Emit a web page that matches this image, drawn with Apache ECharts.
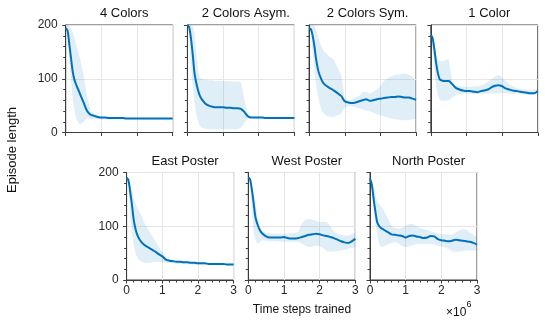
<!DOCTYPE html>
<html lang="en">
<head>
    <meta charset="UTF-8">
    <title>Episode length</title>
    <script src="https://cdn.jsdelivr.net/npm/echarts@6/dist/echarts.min.js"></script>
    <style>
        body { margin: 0; background: #fff; }
        #main { width: 545px; height: 333px; }
    </style>
</head>
<body>
<div id="main"></div>
<script type="text/javascript">
    // time steps trained, in millions
    var steps = [0, 0.05, 0.1, 0.15, 0.2, 0.25, 0.3, 0.35, 0.4, 0.5, 0.6, 0.7, 0.8, 0.9, 1.0, 1.1, 1.2, 1.3, 1.4, 1.5,
        1.6, 1.7, 1.8, 1.9, 2.0, 2.1, 2.2, 2.3, 2.4, 2.5, 2.6, 2.7, 2.8, 2.9, 3.0];

    var titles = ['4 Colors', '2 Colors Asym.', '2 Colors Sym.', '1 Color', 'East Poster', 'West Poster', 'North Poster'];
    var yTicks = [0, 100, 200];
    var xTicks = [0, 1, 2, 3];

    // 4 Colors
    var mean1 = [194, 190, 165, 138, 112, 97, 88, 80, 72, 56, 40, 33, 31, 29, 28, 28, 27, 27, 27, 27, 27, 26, 26, 26, 26, 26, 26, 26, 26, 26, 26, 26, 26, 26, 26];
    var upper1 = [200, 200, 198, 192, 186, 176, 163, 150, 138, 108, 68, 40, 35, 32, 30, 29, 29, 28, 28, 28, 28, 28, 28, 28, 27, 27, 27, 27, 27, 27, 27, 27, 27, 27, 27];
    var lower1 = [194, 185, 141, 98, 60, 38, 25, 19, 15, 19, 26, 25, 25, 25, 24, 24, 24, 24, 24, 24, 24, 24, 24, 24, 24, 24, 24, 24, 24, 24, 24, 24, 24, 24, 24];
    // 2 Colors Asym.
    var mean2 = [200, 196, 175, 145, 110, 92, 78, 68, 62, 54, 50, 48, 47, 47, 47, 46, 46, 45, 45, 44, 38, 30, 28, 28, 28, 28, 27, 27, 27, 27, 27, 27, 27, 27, 27];
    var upper2 = [200, 200, 200, 198, 185, 150, 118, 103, 100, 98, 97, 97, 96, 96, 96, 96, 95, 95, 95, 94, 60, 32, 29, 29, 29, 28, 28, 28, 28, 28, 28, 28, 28, 28, 28];
    var lower2 = [200, 185, 125, 85, 55, 32, 20, 12, 9, 7, 6, 6, 6, 6, 6, 6, 6, 6, 6, 9, 18, 26, 26, 26, 26, 26, 26, 26, 26, 26, 26, 26, 26, 26, 26];
    // 2 Colors Sym.
    var mean3 = [194, 192, 180, 160, 135, 117, 106, 98, 92, 86, 82, 78, 73, 68, 58, 56, 55, 56, 58, 60, 62, 59, 60, 62, 63, 64, 65, 66, 66, 67, 66, 65, 65, 63, 61];
    var upper3 = [200, 200, 200, 198, 190, 180, 168, 160, 152, 145, 140, 135, 120, 107, 63, 60, 62, 65, 68, 76, 76, 72, 76, 80, 86, 96, 101, 104, 107, 108, 109, 110, 108, 103, 95];
    var lower3 = [194, 185, 150, 115, 88, 68, 52, 42, 36, 31, 29, 29, 32, 35, 46, 49, 49, 47, 45, 43, 41, 39, 37, 34, 32, 30, 28, 26, 25, 24, 23, 23, 23, 24, 26];
    // 1 Color
    var mean4 = [181, 176, 155, 129, 110, 99, 97, 96, 96, 96, 90, 83, 80, 78, 77, 77, 76, 75, 77, 78, 80, 84, 87, 88, 86, 82, 80, 78, 77, 76, 75, 74, 73, 73, 77];
    var upper4 = [184, 182, 165, 145, 135, 133, 132, 133, 135, 137, 95, 87, 86, 85, 85, 85, 86, 86, 87, 90, 94, 99, 104, 107, 103, 96, 90, 86, 83, 81, 80, 79, 79, 80, 82];
    var lower4 = [178, 155, 118, 85, 70, 60, 59, 59, 59, 60, 65, 70, 71, 72, 72, 72, 72, 72, 72, 72, 72, 73, 73, 73, 73, 73, 72, 72, 72, 72, 71, 70, 70, 71, 73];
    // East Poster
    var mean5 = [190, 186, 165, 140, 112, 95, 84, 77, 72, 65, 61, 57, 53, 48, 44, 38, 36, 35, 34, 34, 33, 33, 32, 32, 31, 31, 31, 30, 30, 30, 30, 30, 29, 29, 29];
    var upper5 = [192, 190, 178, 165, 152, 142, 134, 128, 122, 106, 95, 84, 73, 62, 52, 43, 39, 37, 36, 36, 35, 35, 34, 33, 33, 33, 32, 32, 32, 32, 31, 31, 31, 31, 31];
    var lower5 = [188, 175, 120, 87, 65, 50, 42, 37, 35, 32, 32, 33, 34, 34, 33, 32, 31, 31, 30, 30, 30, 29, 29, 29, 28, 28, 28, 28, 28, 28, 27, 27, 27, 27, 27];
    // West Poster
    var mean6 = [191, 187, 168, 143, 117, 105, 96, 90, 86, 81, 79, 79, 79, 79, 80, 78, 77, 77, 78, 80, 82, 84, 85, 86, 85, 83, 82, 80, 78, 75, 72, 70, 69, 72, 77];
    var upper6 = [194, 190, 175, 160, 145, 120, 104, 95, 90, 88, 87, 86, 86, 86, 86, 86, 87, 88, 89, 105, 112, 114, 112, 110, 108, 108, 108, 100, 90, 86, 84, 83, 83, 85, 89];
    var lower6 = [188, 178, 130, 90, 76, 67, 69, 72, 74, 73, 72, 72, 72, 71, 71, 71, 71, 71, 71, 68, 64, 61, 62, 64, 63, 59, 54, 52, 53, 54, 55, 56, 58, 60, 61];
    // North Poster
    var mean7 = [188, 178, 152, 128, 108, 101, 97, 95, 93, 89, 85, 84, 83, 82, 79, 82, 83, 81, 80, 78, 79, 82, 81, 76, 74, 73, 72, 73, 75, 74, 73, 72, 71, 69, 66];
    var upper7 = [190, 185, 172, 160, 148, 142, 138, 134, 128, 115, 100, 97, 95, 97, 100, 104, 104, 100, 97, 95, 93, 91, 89, 87, 86, 85, 84, 84, 89, 92, 95, 94, 88, 84, 80];
    var lower7 = [186, 165, 135, 108, 86, 70, 61, 62, 63, 66, 69, 71, 68, 63, 61, 63, 65, 67, 67, 67, 67, 67, 66, 64, 62, 61, 57, 53, 52, 53, 54, 55, 55, 55, 55];

    var means = [mean1, mean2, mean3, mean4, mean5, mean6, mean7];
    var uppers = [upper1, upper2, upper3, upper4, upper5, upper6, upper7];
    var lowers = [lower1, lower2, lower3, lower4, lower5, lower6, lower7];

    var lineColor = '#0072BD';
    var bandColor = 'rgba(0,114,189,0.12)';
    var frameColor = '#3c3c3c';
    var font = 'Liberation Sans';

    // panel boxes
    var W = 107, H = 107.5;
    var boxes = [
        [65.7, 25], [187.4, 25], [309.1, 25], [430.8, 25],
        [126.6, 172.5], [248.3, 172.5], [370, 172.5]
    ];

    // shaded band between lower and upper, one polygon per panel
    function bandRenderer(lo, hi) {
        return function (params, api) {
            if (params.dataIndex !== 0) return;
            var pts = [];
            for (var k = 0; k < steps.length; k++) pts.push(api.coord([steps[k], hi[k]]));
            for (var j = steps.length - 1; j >= 0; j--) pts.push(api.coord([steps[j], lo[j]]));
            return {
                type: 'polygon',
                shape: { points: pts },
                style: { fill: bandColor, stroke: null }
            };
        };
    }

    var grids = [], xAxes = [], yAxes = [], series = [], titleList = [];
    boxes.forEach(function (b, i) {
        var bottomRow = i >= 4;
        var firstCol = (i === 0 || i === 4);
        grids.push({
            left: b[0], top: b[1], width: W, height: H,
            show: true, borderColor: frameColor, borderWidth: 1, containLabel: false
        });
        xAxes.push({
            type: 'value', gridIndex: i, min: xTicks[0], max: xTicks[xTicks.length - 1], interval: 1,
            axisLine: { show: true, lineStyle: { color: frameColor, width: 1 } },
            axisTick: { show: true, length: 3.5, lineStyle: { color: frameColor } },
            minorTick: { show: bottomRow, splitNumber: 5, length: 2.5, lineStyle: { color: frameColor } },
            axisLabel: { show: bottomRow, margin: 5, fontSize: 12, color: '#262626', fontFamily: font },
            splitLine: { show: true, lineStyle: { color: '#e6e6e6', width: 1 } }
        });
        yAxes.push({
            type: 'value', gridIndex: i, min: yTicks[0], max: yTicks[yTicks.length - 1], interval: 100,
            axisLine: { show: true, lineStyle: { color: frameColor, width: 1 } },
            axisTick: { show: true, length: 3.5, lineStyle: { color: frameColor } },
            minorTick: { show: true, splitNumber: 5, length: 2.5, lineStyle: { color: frameColor } },
            axisLabel: { show: firstCol, margin: 8, fontSize: 12, color: '#262626', fontFamily: font },
            splitLine: { show: true, lineStyle: { color: '#e6e6e6', width: 1 } }
        });
        titleList.push({
            text: titles[i],
            left: b[0] + W / 2, top: b[1] - 23, textAlign: 'center',
            textStyle: { fontSize: 13, fontWeight: 'normal', color: '#111', fontFamily: font }
        });

        var bandData = [], meanData = [];
        for (var k = 0; k < steps.length; k++) {
            bandData.push([steps[k], lowers[i][k], uppers[i][k]]);
            meanData.push([steps[k], means[i][k]]);
        }
        series.push({
            type: 'custom', xAxisIndex: i, yAxisIndex: i, data: bandData,
            encode: { x: 0, y: [1, 2] }, renderItem: bandRenderer(lowers[i], uppers[i]),
            silent: true, z: 1
        });
        series.push({
            type: 'line', xAxisIndex: i, yAxisIndex: i, data: meanData,
            symbol: 'none', smooth: 0.3, lineStyle: { color: lineColor, width: 2 }, z: 3
        });
    });

    var myChart = echarts.init(document.getElementById('main'));
    myChart.setOption({
        animation: false,
        backgroundColor: '#fff',
        title: titleList,
        grid: grids,
        xAxis: xAxes,
        yAxis: yAxes,
        series: series,
        graphic: [
            {
                type: 'text', x: 12, y: 150, rotation: Math.PI / 2,
                style: { text: 'Episode length', fill: '#111', font: '13px "Liberation Sans"', align: 'center', verticalAlign: 'middle' }
            },
            {
                type: 'text', x: 302, y: 310,
                style: { text: 'Time steps trained', fill: '#111', font: '12px "Liberation Sans"', align: 'center', verticalAlign: 'middle' }
            },
            {
                type: 'text', x: 446, y: 313,
                style: { text: '×10', fill: '#111', font: '12px "Liberation Sans"', align: 'left', verticalAlign: 'middle' }
            },
            {
                type: 'text', x: 466.5, y: 305,
                style: { text: '6', fill: '#111', font: '9px "Liberation Sans"', align: 'left', verticalAlign: 'middle' }
            }
        ]
    });
</script>
</body>
</html>
